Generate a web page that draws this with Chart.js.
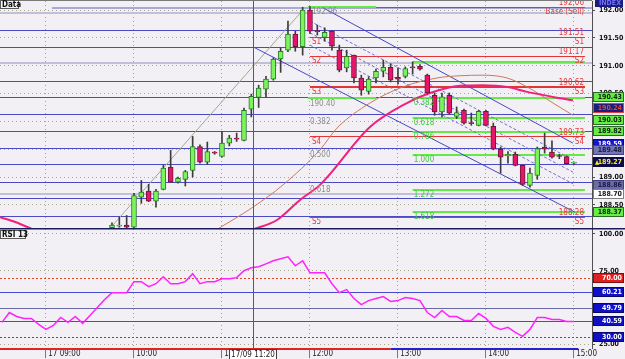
<!DOCTYPE html>
<html><head><meta charset="utf-8">
<script src="https://cdn.jsdelivr.net/npm/chart.js@4/dist/chart.umd.min.js"></script>
<style>
html,body{margin:0;padding:0;background:#f2f0f4;}
#wrap{position:relative;width:625px;height:359px;overflow:hidden;background:#f2f0f4;}
canvas{position:absolute;left:0;display:block;}
#pc{top:0;}
#rc{top:228px;}
</style></head><body>
<div id="wrap"><canvas id="pc" width="625" height="228"></canvas><canvas id="rc" width="625" height="131"></canvas></div>
<script>
// ---------- DATA (times are minutes after 09:00) ----------
const candleTimes=[45,50,55,60,65,70,75,80,85,90,95,100,105,110,115,120,125,130,135,140,145,150,155,160,165,170,175,180,185,190,195,200,205,210,215,220,225,230,235,240,245,250,255,260,265,270,275,280,285,290,295,300,305,310,315,320,325,330,335,340,345,350,355,360];
const opens=[188.09,188.12,188.14,188.10,188.64,188.75,188.57,188.78,189.18,188.91,188.96,189.12,189.55,189.27,189.45,189.37,189.61,189.70,189.66,190.22,190.43,190.58,190.76,191.12,191.28,191.57,191.34,192.00,191.63,191.51,191.62,191.28,190.96,191.19,190.78,190.54,190.78,190.90,190.97,190.79,190.81,190.97,190.99,190.83,190.47,190.17,190.47,190.09,190.20,189.97,189.93,190.18,189.91,189.50,189.38,189.41,189.21,188.85,189.03,189.54,189.45,189.38,189.37,189.25];
const highs=[188.18,188.28,188.31,188.71,188.94,188.87,188.78,189.21,189.48,189.00,189.12,189.73,189.58,189.63,189.46,189.82,189.75,189.79,190.24,190.49,190.65,190.81,191.14,191.32,191.80,191.62,192.05,192.06,191.73,191.68,191.63,191.37,191.28,191.19,190.83,190.80,190.94,191.10,191.03,190.96,190.98,191.07,191.02,190.85,190.51,190.51,190.51,190.26,190.22,190.15,190.20,190.20,189.97,189.54,189.46,189.45,189.22,189.16,189.54,189.79,189.65,189.41,189.38,189.27];
const lows=[188.05,188.10,188.09,188.09,188.53,188.56,188.46,188.77,188.90,188.89,188.84,189.00,189.25,189.23,189.41,189.36,189.56,189.64,189.65,190.08,190.25,190.44,190.74,190.88,191.25,191.26,191.19,191.58,191.55,191.44,191.28,190.89,190.89,190.69,190.47,190.49,190.69,190.80,190.71,190.67,190.78,190.85,190.92,190.50,190.11,190.08,190.13,190.05,189.95,189.93,189.92,189.92,189.49,189.07,189.25,189.20,188.85,188.82,188.96,189.43,189.34,189.33,189.23,189.23];
const closes=[188.14,188.13,188.10,188.67,188.73,188.57,188.75,189.16,188.91,188.98,189.10,189.55,189.27,189.46,189.43,189.61,189.70,189.68,190.20,190.45,190.60,190.76,191.12,191.26,191.57,191.34,192.00,191.62,191.61,191.60,191.35,190.92,191.17,190.78,190.56,190.76,190.90,190.97,190.74,190.76,190.95,190.96,190.94,190.51,190.17,190.44,190.15,190.16,189.97,189.96,190.18,189.93,189.50,189.36,189.41,189.21,188.87,189.07,189.51,189.50,189.36,189.37,189.24,189.26];

const slowMATimes=[-31.4,-20.5,-8.9,60,141.1,157.5,173.2,186.8,220.9,246.1,261.8,282.3,297.9,314.3,328,345.7,359.3];
const slowMA=[188.28,188.19,188.06,null,188.06,188.23,188.59,188.86,189.90,190.33,190.51,190.64,190.65,190.62,190.53,190.44,190.38];
const fastMATimes=[116.6,141.1,161.6,186.8,198.4,220.9,243.4,266.6,282.3,297.9,314.3,328,345.7,359.3];
const fastMA=[188.06,188.46,188.86,189.49,189.88,190.33,190.62,190.78,190.82,190.83,190.78,190.62,190.33,190.11];

const upperChannelTimes=[188.9,359.3], upperChannel=[192.04,189.61];
const lowerChannelTimes=[141.1,360.7], lowerChannel=[191.34,188.37];
const midTimes=[180,359.3];
const mid1=[191.80,189.31], mid2=[191.59,189.09], mid3=[191.37,188.88];
const trendTimes=[44.3,175.2], trend=[188.10,192.00];

const blueLevels=[191.64,191.33,190.72,190.43,190.13,189.82,189.52,189.23,188.92,188.62,188.31];
const paleLevels=[192.04,191.94,191.04,188.70];
const paleStart=[4,-31.4,-31.4,-31.4];
const redLevels=[192.06,191.51,191.17,190.62,189.73,188.28];
const redNames=['Base (Sell)','S1','S2','S3','S4','S5'];
const redStart=[225,180,180,180,180,180];
const swingLevels=[192.06,190.42];
const swingStart=178.6, swingEnd=225;
const fibLevels=[191.07,190.42,190.06,189.81,189.40,188.77,188.37];
const fibNames=['0.000','0.382','0.618','0.786','1.000','1.272','1.618'];
const fibStart=250, levelEnd=367.5;
const noteTexts=['192.06','190.40','0.382','0.500','0.618'];
const noteTimes=[180,178.6,178.6,178.6,178.6];
const notePrices=[191.96,190.31,189.99,189.40,188.77];

const markValues=[190.43,190.24,190.03,189.82,189.59,189.48,188.78,188.86,188.70,188.37,189.27];
const priceTicks=[188.5,189.0,189.5,190.0,190.5,191.0,191.5,192.0];

const rsiTimes=[-30,-25,-20,-15,-10,-5,0,5,10,15,20,25,30,35,40,45,50,55,60,65,70,75,80,85,90,95,100,105,110,115,120,125,130,135,140,145,150,155,160,165,170,175,180,185,190,195,200,205,210,215,220,225,230,235,240,245,250,255,260,265,270,275,280,285,290,295,300,305,310,315,320,325,330,335,340,345,350,355,360];
const rsiValues=[39.9,46.6,43.9,42.6,42.6,38.5,35.1,37.8,43.2,39.9,
43.9,39.2,44.6,50.0,55.4,60.1,60.1,60.1,67.6,67.6,
64.2,66.2,70.9,66.2,66.2,67.6,73.0,66.2,67.6,67.6,
69.6,69.6,70.3,75.0,77.0,77.7,79.7,81.8,83.1,84.5,
78.4,81.8,73.6,73.6,73.6,66.2,60.1,62.2,56.1,52.0,
54.7,56.1,57.4,54.1,54.7,56.8,56.1,54.7,46.6,43.2,
48.0,43.9,43.9,41.2,41.2,45.9,42.6,37.2,35.1,36.5,
33.1,30.4,35.1,43.2,43.2,41.9,41.9,40.5,40.5];
const rsiLevels=[70,60.21,49.79,40.59,30];
const rsiTicks=[25,75,100];
const stripTimes=[-31.4,235,363];
const timeTicks=[0,60,120,180,240,300,360];
const timeLabels=['17 09:00','10:00','11:00','12:00','13:00','14:00','15:00'];
const crossTime=141, crossLabel='17/09 11:20';
const xMin=-31.36, xMax=372.3;

// ---------- helpers ----------
const FONT="'Liberation Sans Narrow','DejaVu Sans Condensed','Liberation Sans',sans-serif";
const fnt=(s,b)=>(b?'bold ':'')+s+'px '+FONT;
const pts=(ts,vs)=>ts.map((t,i)=>({x:t,y:vs[i]}));
function hline(ctx,xs,ys,v,t0,t1,color,w,dash){
  const py=ys.getPixelForValue(v);
  const yy=(w%2===1)?Math.round(py)+0.5:Math.round(py);
  ctx.save();ctx.strokeStyle=color;ctx.lineWidth=w;ctx.setLineDash(dash||[]);
  ctx.beginPath();ctx.moveTo(xs.getPixelForValue(t0),yy);ctx.lineTo(xs.getPixelForValue(t1),yy);ctx.stroke();ctx.restore();
}
function box(ctx,x0,x1,yc,h,bg,fg,text,border,align){
  const top=Math.round(yc-h/2);
  ctx.fillStyle=bg;ctx.fillRect(x0,top,x1-x0,h);
  if(border){ctx.strokeStyle=border;ctx.lineWidth=1;ctx.setLineDash([]);ctx.strokeRect(x0+0.5,top+0.5,x1-x0-1,h-1);}
  ctx.fillStyle=fg;ctx.font=fnt(align==='center'?8:7,align!=='center');ctx.textBaseline='middle';
  if(align==='center'){ctx.textAlign='center';ctx.fillText(text,(x0+x1)/2,top+h/2+0.5);}
  else{ctx.textAlign='right';ctx.fillText(text,x1-2,top+h/2+0.5);}
}
function crossLine(chart){
  const {ctx,chartArea:a,scales:{x:xs}}=chart;
  const px=Math.round(xs.getPixelForValue(crossTime))+0.5;
  ctx.save();ctx.strokeStyle='#5a5a5a';ctx.lineWidth=1;ctx.beginPath();ctx.moveTo(px,a.top-1);ctx.lineTo(px,a.bottom);ctx.stroke();ctx.restore();
}

const up=i=>closes[i]>=opens[i];

// ---------- price chart ----------
const pricePlugin={
  id:'pricePlugin',
  beforeDatasetsDraw(chart){
    const {ctx,chartArea:a,scales:{x:xs,y:ys}}=chart;
    ctx.save();ctx.beginPath();ctx.rect(a.left,a.top,a.right-a.left,a.bottom-a.top);ctx.clip();
    paleLevels.forEach((v,i)=>hline(ctx,xs,ys,v,paleStart[i],xs.max,i===0?'#a8a8da':'#c2c0d8',2));
    blueLevels.forEach(v=>hline(ctx,xs,ys,v,xs.min,xs.max,'#4a4ac6',1));
    swingLevels.forEach(v=>hline(ctx,xs,ys,v,swingStart,swingEnd,'#66e848',2));
    fibLevels.forEach(v=>hline(ctx,xs,ys,v,fibStart,levelEnd,'#66e848',2));
    redLevels.forEach((v,i)=>hline(ctx,xs,ys,v,redStart[i],levelEnd,'#e23636',i===3?2:1));
    ctx.restore();
  },
  afterDatasetsDraw(chart){
    const {ctx,chartArea:a,scales:{x:xs,y:ys}}=chart;
    ctx.save();
    ctx.font=fnt(8);
    redLevels.forEach((v,i)=>{
      const py=ys.getPixelForValue(v), xr=xs.getPixelForValue(levelEnd)-1;
      ctx.fillStyle='#e03a3a';ctx.textAlign='right';
      ctx.textBaseline='bottom';ctx.fillText(v.toFixed(2),xr,py);
      ctx.textBaseline='top';ctx.fillText(redNames[i],xr,py+1);
      if(i>0){ctx.textAlign='left';ctx.fillText(redNames[i],xs.getPixelForValue(redStart[i])+2,py+1);}
    });
    ctx.fillStyle='#3cc83c';ctx.textAlign='left';ctx.textBaseline='top';
    fibLevels.forEach((v,i)=>{ if(i>0) ctx.fillText(fibNames[i],xs.getPixelForValue(fibStart)+1,ys.getPixelForValue(v)+1); });
    ctx.fillStyle='#8c8c8c';ctx.textBaseline='middle';
    noteTexts.forEach((s,i)=>ctx.fillText(s,xs.getPixelForValue(noteTimes[i])+2,ys.getPixelForValue(notePrices[i])));
    ctx.restore();
    crossLine(chart);
  },
  afterDraw(chart){
    const {ctx,chartArea:a,scales:{y:ys}}=chart;
    const W=chart.width;
    ctx.save();
    ctx.strokeStyle='#7a7a7a';ctx.lineWidth=1;ctx.beginPath();ctx.moveTo(0,0.5);ctx.lineTo(a.right,0.5);ctx.stroke();
    const styles=[
      ['#66ee44','#102010','#2a6a2a'],['#1e1e78','#e04040','#e04040'],['#66ee44','#102010','#2a6a2a'],
      ['#66ee44','#102010','#2a6a2a'],['#1414c8','#ffffff','#0a0a80'],['#7474b4','#1a1a40','#404080'],
      ['#66ee44','#102010','#2a6a2a'],['#6c6cac','#1a1a40','#404080'],['#ffffff','#202020','#808080'],
      ['#66ee44','#102010','#2a6a2a'],['#0c0c48','#f4f020','#0c0c48']];
    markValues.forEach((v,i)=>{
      const st=styles[i];
      box(ctx,a.right+1,W-1,ys.getPixelForValue(v),10,st[0],st[1],v.toFixed(2),st[2]);
      if(i===markValues.length-1){ctx.fillStyle='#f4f020';ctx.font=fnt(6,true);ctx.textAlign='left';ctx.fillText('\u25B2',a.right+3,ys.getPixelForValue(v)+0.5);}
    });
    ctx.fillStyle='#1c1c7c';ctx.fillRect(a.right+3,0,W-a.right-5,7);
    ctx.fillStyle='#7070ff';ctx.font=fnt(7,true);ctx.textAlign='right';ctx.textBaseline='middle';ctx.fillText('INDEX',W-4,3.5);
    ctx.fillStyle='#f4f4f4';ctx.fillRect(0,0,19,9);ctx.strokeStyle='#5a5a5a';ctx.strokeRect(0.5,0.5,18,8);
    ctx.fillStyle='#111';ctx.font=fnt(8,true);ctx.textAlign='left';ctx.textBaseline='middle';ctx.fillText('Data',2,5);
    ctx.restore();
  }
};

const lineDs=(ts,vs,color,w,dash,order,smooth)=>({type:'line',data:pts(ts,vs),borderColor:color,borderWidth:w,borderDash:dash||[],pointRadius:0,fill:false,order:order,cubicInterpolationMode:smooth?'monotone':'default',tension:0});

new Chart(document.getElementById('pc'),{
  type:'bar',
  data:{datasets:[
    {type:'bar',data:candleTimes.map((t,i)=>({x:t,y:[opens[i],closes[i]]})),barThickness:5,grouped:false,minBarLength:1,
     backgroundColor:c=>up(c.dataIndex)?'#7cf25c':'#e6146a',borderColor:c=>up(c.dataIndex)?'#2a7a2a':'#6a1838',borderWidth:1,borderSkipped:false,order:0},
    {type:'bar',data:candleTimes.map((t,i)=>({x:t,y:[lows[i],highs[i]]})),barThickness:1,grouped:false,backgroundColor:'#3c3c3c',borderWidth:0,order:1},
    lineDs(slowMATimes,slowMA,'#f0207c',2,null,2,true),
    lineDs(fastMATimes,fastMA,'#c87a5a',1,null,2,true),
    lineDs(upperChannelTimes,upperChannel,'#4646c4',1,null,3),
    lineDs(lowerChannelTimes,lowerChannel,'#4646c4',1,null,3),
    lineDs(midTimes,mid1,'#7070d0',1,[3,2],3),
    lineDs(midTimes,mid2,'#7070d0',1,[3,2],3),
    lineDs(midTimes,mid3,'#7070d0',1,[3,2],3),
    lineDs(trendTimes,trend,'#a0a890',1,null,3)
  ]},
  options:{
    responsive:false,animation:false,devicePixelRatio:1,events:[],
    layout:{padding:{top:1,left:0,right:0,bottom:0}},
    plugins:{legend:{display:false},tooltip:{enabled:false}},
    scales:{
      x:{type:'linear',min:xMin,max:xMax,offset:false,
         afterBuildTicks:s=>{s.ticks=timeTicks.map(v=>({value:v}));},
         ticks:{display:false},grid:{color:'#a8a48c',drawTicks:false,offset:false},
         border:{display:false,dash:[1,3]},afterFit:s=>{s.height=0;}},
      y:{position:'right',min:188.086,max:192.162,beginAtZero:false,
         afterBuildTicks:s=>{s.ticks=priceTicks.map(v=>({value:v}));},
         ticks:{font:{family:FONT,size:7,weight:'bold'},color:'#101010',padding:4,callback:v=>Number(v).toFixed(2)},
         grid:{color:'#aaa88a',tickLength:3,tickColor:'#505050'},
         border:{display:true,color:'#505050',dash:[1,3]},
         afterFit:s=>{s.width=33;s.paddingTop=0;s.paddingBottom=0;}}
    }
  },
  plugins:[pricePlugin]
});

// ---------- RSI chart ----------
const rsiPlugin={
  id:'rsiPlugin',
  beforeDatasetsDraw(chart){
    const {ctx,chartArea:a,scales:{x:xs,y:ys}}=chart;
    ctx.save();ctx.beginPath();ctx.rect(a.left,a.top,a.right-a.left,a.bottom-a.top);ctx.clip();
    const st=[['#e04a2a',1,[2,2]],['#4848d0',1,null],['#6a6aa8',1,null],['#4848d0',1,null],['#4848d0',1,[2,2]]];
    rsiLevels.forEach((v,i)=>hline(ctx,xs,ys,v,xs.min,xs.max,st[i][0],st[i][1],st[i][2]));
    ctx.restore();
  },
  afterDatasetsDraw(chart){crossLine(chart);},
  afterDraw(chart){
    const {ctx,chartArea:a,scales:{x:xs,y:ys}}=chart;
    const W=chart.width;
    ctx.save();
    ctx.strokeStyle='#1a1a5e';ctx.lineWidth=1.5;ctx.beginPath();ctx.moveTo(0,0.75);ctx.lineTo(W,0.75);ctx.stroke();
    const sy=a.bottom+1;
    ctx.lineWidth=2;
    ctx.strokeStyle='#e02424';ctx.beginPath();ctx.moveTo(xs.getPixelForValue(stripTimes[0]),sy);ctx.lineTo(xs.getPixelForValue(stripTimes[1]),sy);ctx.stroke();
    ctx.strokeStyle='#2222d0';ctx.beginPath();ctx.moveTo(xs.getPixelForValue(stripTimes[1]),sy);ctx.lineTo(xs.getPixelForValue(stripTimes[2]),sy);ctx.stroke();
    rsiLevels.forEach((v,i)=>{
      const bg=i===0?'#e02020':'#1010c8';
      box(ctx,a.right+1,W-1,ys.getPixelForValue(v),10,bg,'#ffffff',v.toFixed(2),i===0?'#801010':'#08086a');
    });
    ctx.fillStyle='#f4f4f4';ctx.fillRect(0,2,26,9);ctx.strokeStyle='#5a5a5a';ctx.lineWidth=1;ctx.strokeRect(0.5,2.5,25,8);
    ctx.fillStyle='#111';ctx.font=fnt(8,true);ctx.textAlign='left';ctx.textBaseline='middle';ctx.fillText('RSI 13',2,7);
    const cx=xs.getPixelForValue(crossTime);
    box(ctx,Math.round(cx-24),Math.round(cx+24),a.bottom+6,11,'#ffffff','#202020',crossLabel,'#404040','center');
    ctx.restore();
  }
};

new Chart(document.getElementById('rc'),{
  type:'line',
  data:{datasets:[{data:pts(rsiTimes,rsiValues),borderColor:'#ff22ff',borderWidth:1.5,pointRadius:0,fill:false,tension:0}]},
  options:{
    responsive:false,animation:false,devicePixelRatio:1,events:[],
    layout:{padding:{top:1,left:0,right:0,bottom:0}},
    plugins:{legend:{display:false},tooltip:{enabled:false}},
    scales:{
      x:{type:'linear',min:xMin,max:xMax,offset:false,
         afterBuildTicks:s=>{s.ticks=timeTicks.map(v=>({value:v}));},
         ticks:{align:'start',maxRotation:0,autoSkip:false,padding:-9,font:{family:FONT,size:8},color:'#1a1a1a',
                callback:(v,i)=>' '+timeLabels[i]},
         grid:{color:'#a8a48c',tickLength:10,tickColor:'#7a7a7a',tickBorderDash:[]},
         border:{display:false,dash:[1,3]},
         afterFit:s=>{s.height=11;s.paddingLeft=0;s.paddingRight=0;}},
      y:{position:'right',min:22.45,max:103.4,
         afterBuildTicks:s=>{s.ticks=rsiTicks.map(v=>({value:v}));},
         ticks:{font:{family:FONT,size:7,weight:'bold'},color:'#101010',padding:4,callback:v=>Number(v).toFixed(2)},
         grid:{color:'#aaa88a',tickLength:3,tickColor:'#505050'},
         border:{display:true,color:'#505050',dash:[1,3]},
         afterFit:s=>{s.width=33;s.paddingTop=0;s.paddingBottom=0;}}
    }
  },
  plugins:[rsiPlugin]
});
</script></body></html>
